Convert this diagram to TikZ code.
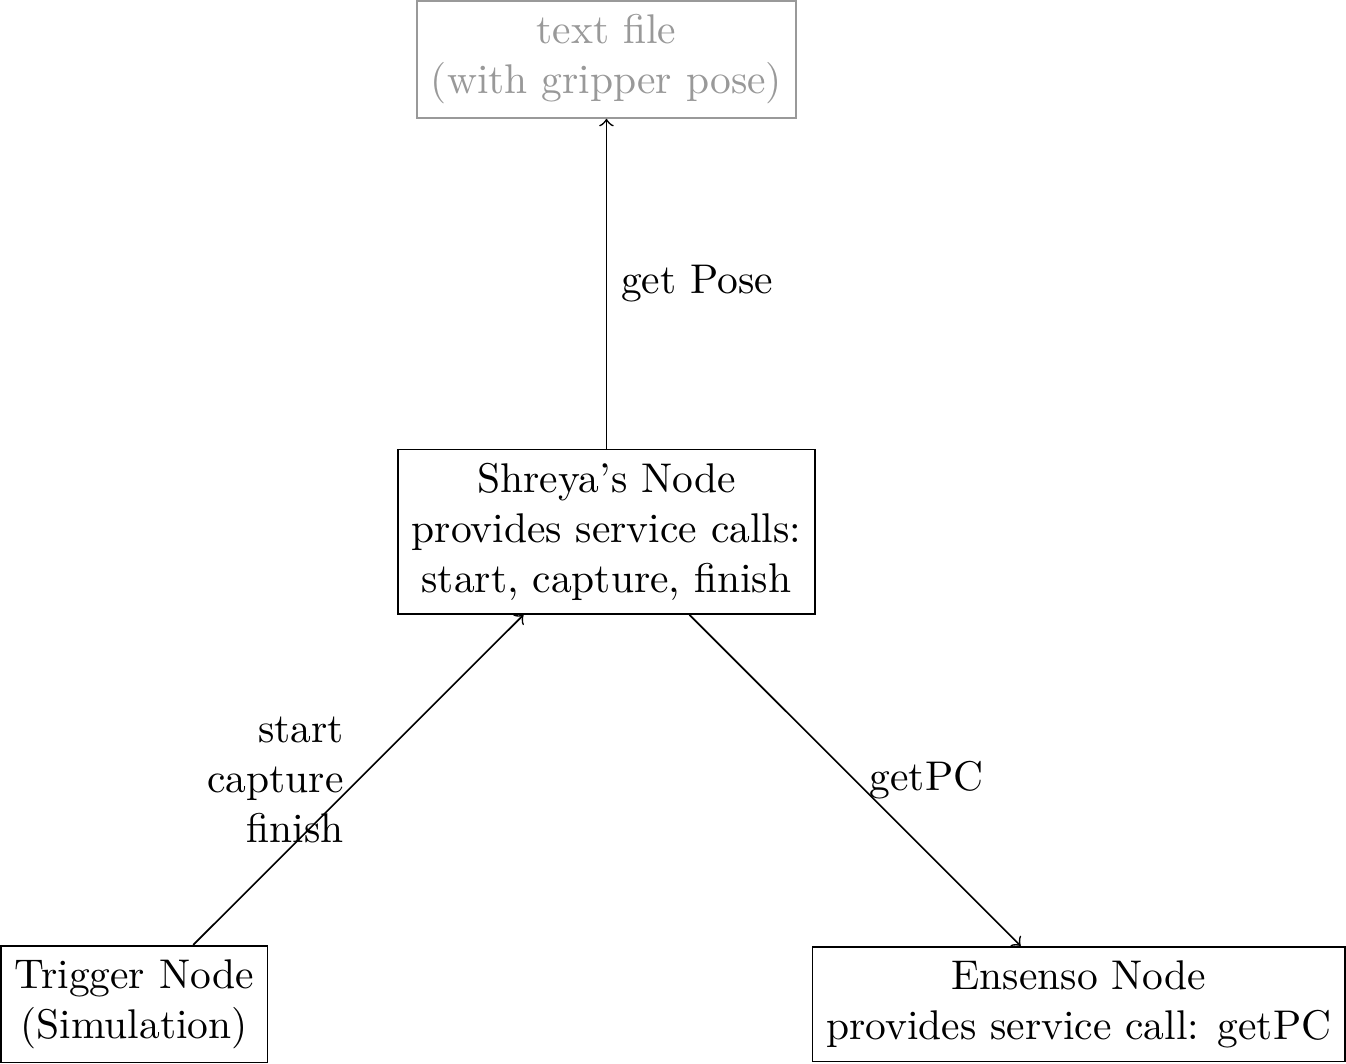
\documentclass[tikz,border=0pt]{standalone}
\usepackage{amsmath}
\usepackage{xcolor}
\usetikzlibrary{positioning}
\tikzset{box/.style={draw,rectangle,align=center},
         faded/.style={box,draw=gray!80,text=gray!80},
         }
\begin{document}
\begin{tikzpicture}[node distance=4cm,on grid]
\node[box] (shreya) {Shreya's Node\\provides service calls:\\start, capture, finish};
\node[faded,above=of shreya] (textfile) {text file\\(with gripper pose)};
\node[box,below left=4cm and 4cm of shreya] (trigger) {Trigger Node\\(Simulation)};
\node[box,below right=4cm and 4cm of shreya] (ensenso) {Ensenso Node\\provides service call: getPC};
\draw[->] (trigger) -- node[left,align=right] {start\\capture\\finish} (shreya);
\draw[->] (shreya) -- node[right] {getPC} (ensenso);
\draw[->] (shreya) -- node[right] {get Pose} (textfile);
\end{tikzpicture}
\end{document}
